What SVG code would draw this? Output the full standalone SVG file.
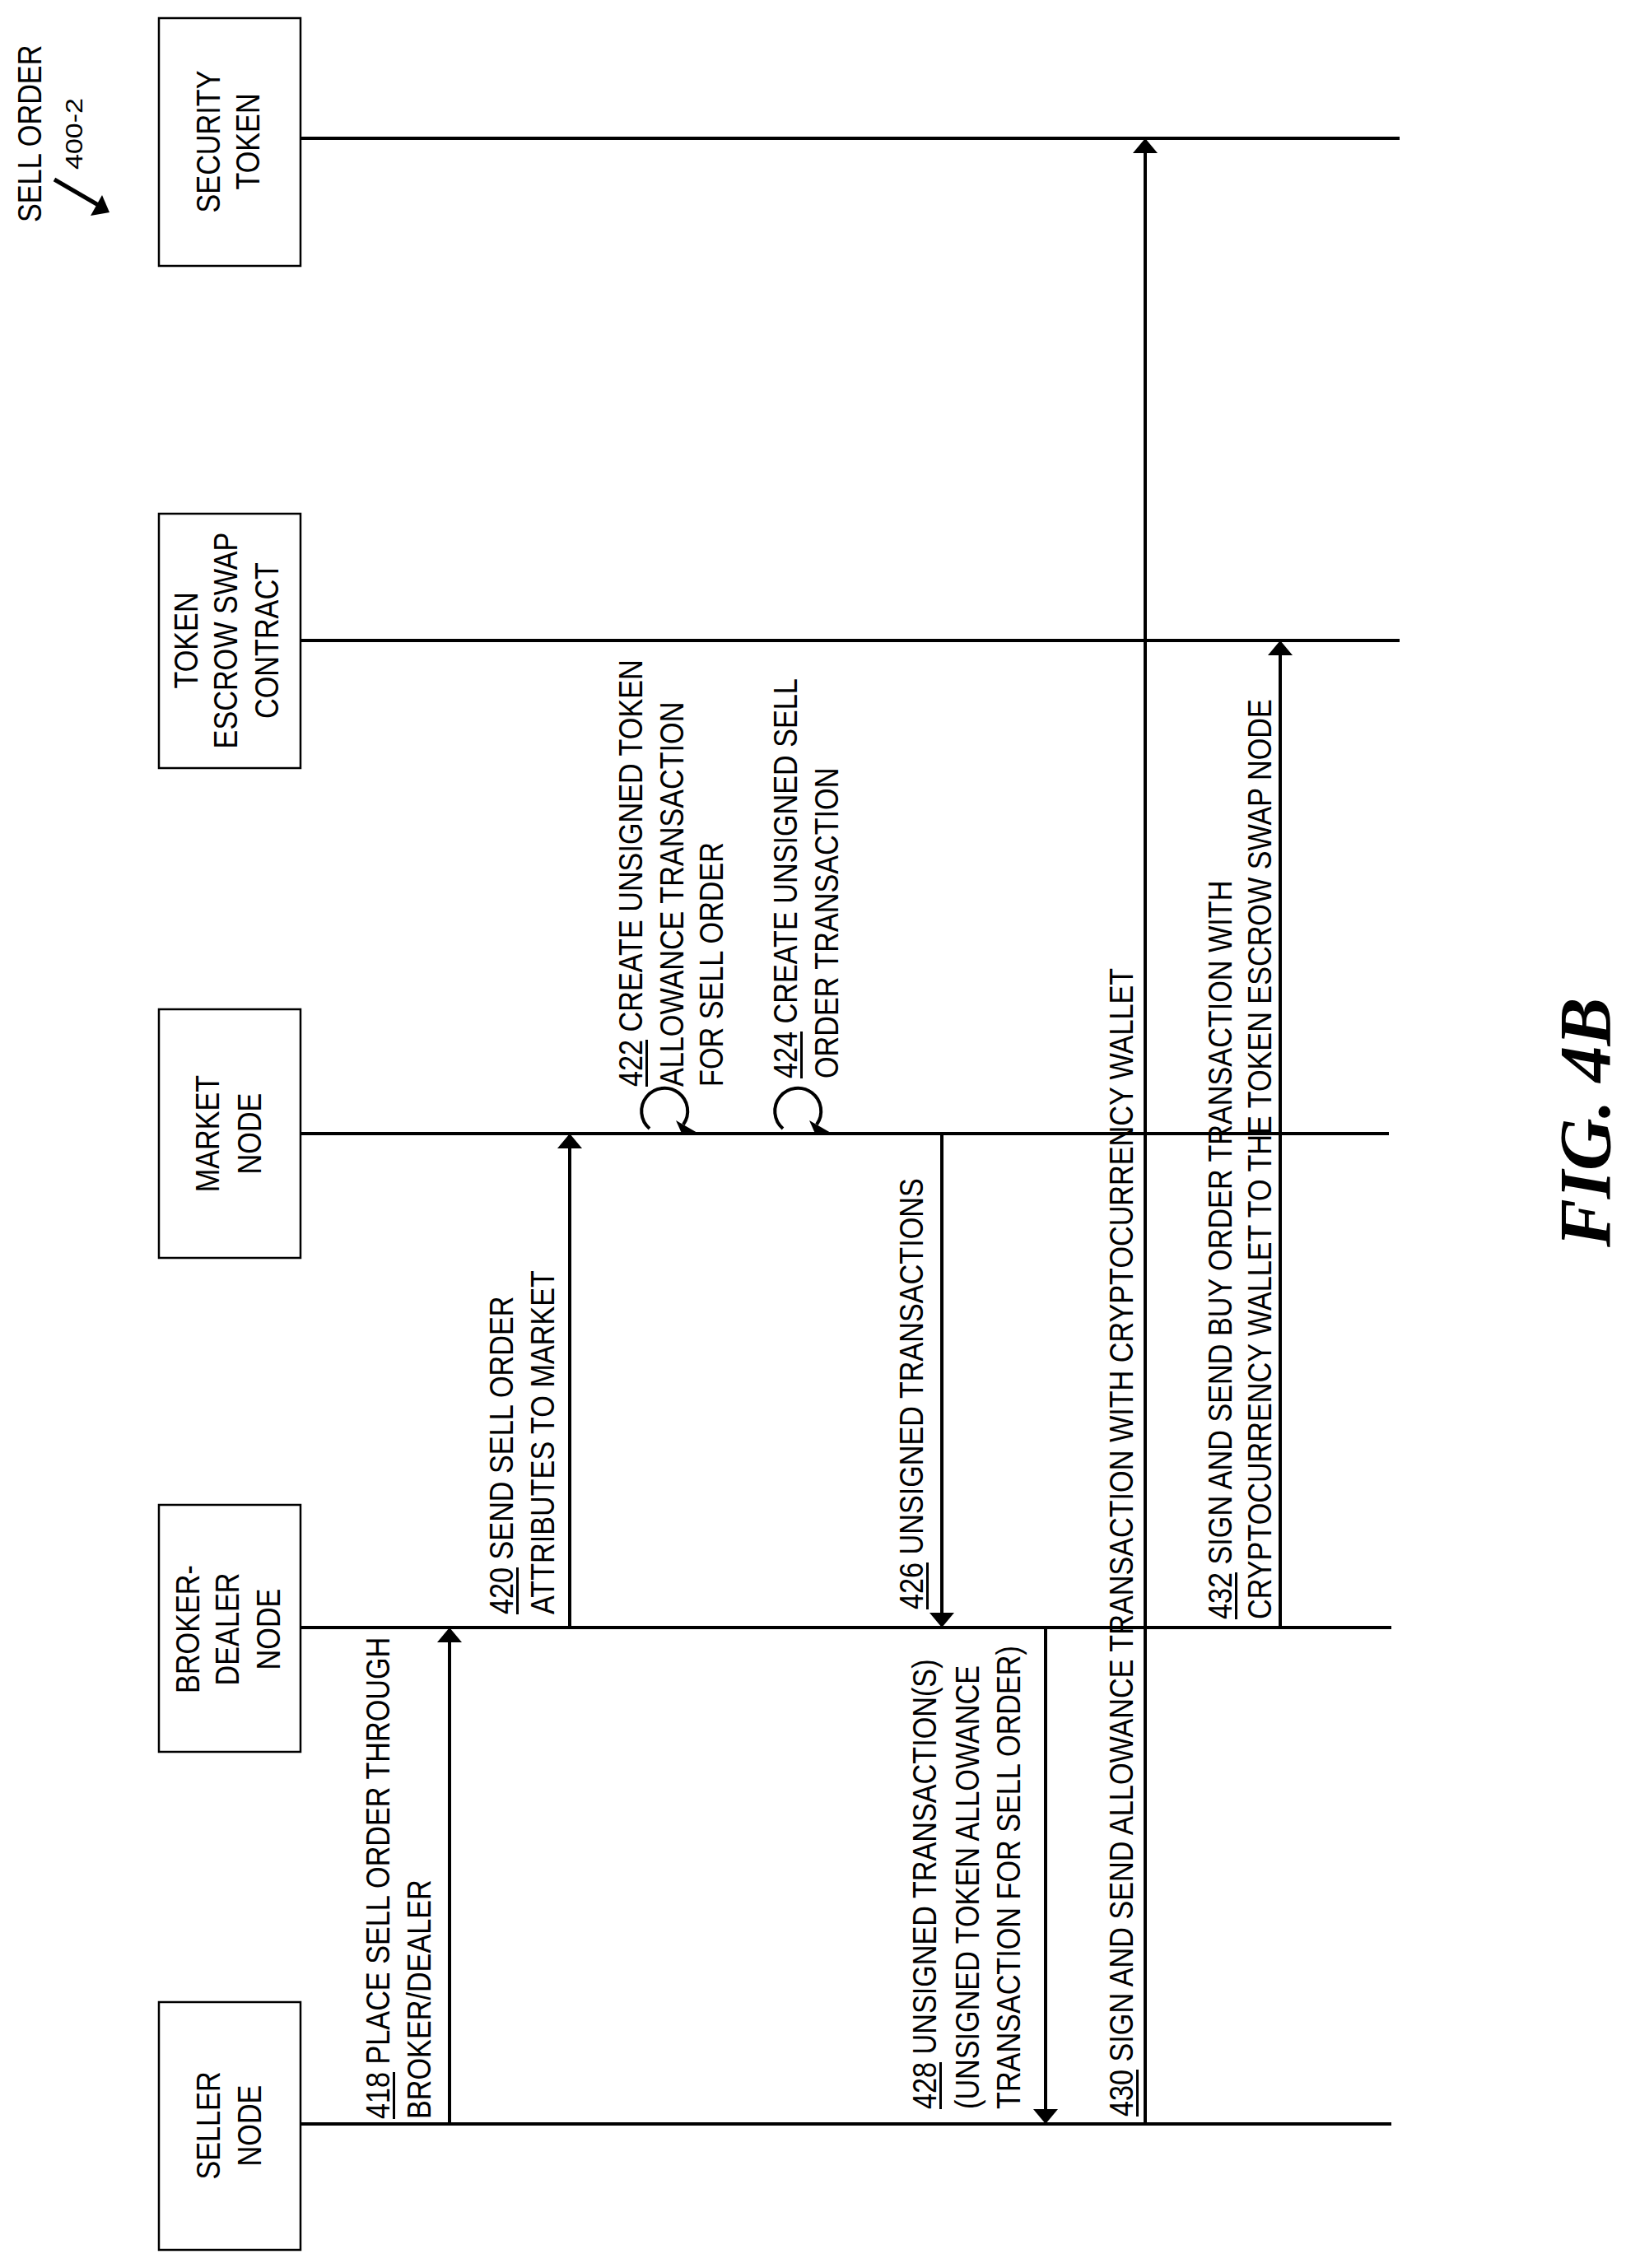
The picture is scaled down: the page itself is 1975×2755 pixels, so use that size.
<svg xmlns="http://www.w3.org/2000/svg" width="1975" height="2755" viewBox="0 0 1975 2755">
<defs>
<style>
.t{font-family:"Liberation Sans",Arial,sans-serif;font-size:40px;fill:#000}
.c{text-anchor:middle}
.box{fill:#fff;stroke:#000;stroke-width:2.5}
.life{stroke:#000;stroke-width:4;fill:none}
.msg{stroke:#000;stroke-width:4;fill:none}
.ul{stroke:#000;stroke-width:3}
.fig{font-family:"Liberation Serif","Times New Roman",serif;font-size:88px;font-weight:bold;font-style:italic;fill:#000}
</style>
<marker id="ah" markerUnits="userSpaceOnUse" markerWidth="18" markerHeight="30" refX="10" refY="15" orient="auto" viewBox="0 0 18 30"><path d="M0,0 L18,15 L0,30 Z" fill="#000"/></marker>
</defs>
<rect width="1975" height="2755" fill="#fff"/>

<g id="label-sell-order">
<text class="t" transform="translate(0,270) rotate(-90) scale(0.855,1)"><tspan x="0" y="50">SELL ORDER</tspan></text>
<text class="t" style="font-size:29px" transform="translate(0,206) rotate(-90)"><tspan x="0" y="100" textLength="87" lengthAdjust="spacingAndGlyphs">400-2</tspan></text>
<line x1="66" y1="218" x2="121" y2="250" stroke="#000" stroke-width="5"/>
<polygon points="133,258 110,262 124,237" fill="#000"/>
</g>

<g id="lifelines">
<line class="life" x1="365" y1="168" x2="1700" y2="168"/>
<line class="life" x1="365" y1="778" x2="1700" y2="778"/>
<line class="life" x1="365" y1="1377" x2="1687" y2="1377"/>
<line class="life" x1="365" y1="1977" x2="1690" y2="1977"/>
<line class="life" x1="365" y1="2580" x2="1690" y2="2580"/>
</g>

<g id="node-security-token">
<rect class="box" x="193" y="22" width="172" height="301"/>
<text class="t c" transform="translate(0,172) rotate(-90) scale(0.855,1)"><tspan x="0" y="267">SECURITY</tspan><tspan x="0" y="315">TOKEN</tspan></text>
</g>

<g id="node-token-escrow-swap-contract">
<rect class="box" x="193" y="624" width="172" height="309"/>
<text class="t c" transform="translate(0,778) rotate(-90) scale(0.855,1)"><tspan x="0" y="240">TOKEN</tspan><tspan x="0" y="288">ESCROW SWAP</tspan><tspan x="0" y="338">CONTRACT</tspan></text>
</g>

<g id="node-market">
<rect class="box" x="193" y="1226" width="172" height="302"/>
<text class="t c" transform="translate(0,1377) rotate(-90) scale(0.855,1)"><tspan x="0" y="266">MARKET</tspan><tspan x="0" y="317">NODE</tspan></text>
</g>

<g id="node-broker-dealer">
<rect class="box" x="193" y="1828" width="172" height="300"/>
<text class="t c" transform="translate(0,1979) rotate(-90) scale(0.855,1)"><tspan x="0" y="242">BROKER-</tspan><tspan x="0" y="290">DEALER</tspan><tspan x="0" y="340">NODE</tspan></text>
</g>

<g id="node-seller">
<rect class="box" x="193" y="2432" width="172" height="301"/>
<text class="t c" transform="translate(0,2582) rotate(-90) scale(0.855,1)"><tspan x="0" y="267">SELLER</tspan><tspan x="0" y="317">NODE</tspan></text>
</g>

<g id="connectors">
<line class="msg" x1="546" y1="2580" x2="546" y2="1985" marker-end="url(#ah)"/>
<line class="msg" x1="692" y1="1977" x2="692" y2="1385" marker-end="url(#ah)"/>
<path class="msg" d="M789,1371 A28,28 0 1 1 830,1366"/>
<polygon points="847,1376 821,1361 829,1379" fill="#000"/>
<path class="msg" d="M951,1371 A28,28 0 1 1 992,1366"/>
<polygon points="1009,1376 983,1361 991,1379" fill="#000"/>
<line class="msg" x1="1144" y1="1377" x2="1144" y2="1969" marker-end="url(#ah)"/>
<line class="msg" x1="1270" y1="1977" x2="1270" y2="2572" marker-end="url(#ah)"/>
<line class="msg" x1="1391" y1="2580" x2="1391" y2="176" marker-end="url(#ah)"/>
<line class="msg" x1="1555" y1="1977" x2="1555" y2="786" marker-end="url(#ah)"/>
</g>

<g id="labels">
<g id="label-418" transform="translate(0,2574) rotate(-90) scale(0.855,1)">
<text class="t"><tspan x="0" y="473">418 PLACE SELL ORDER THROUGH</tspan><tspan x="0" y="523">BROKER/DEALER</tspan></text>
<line class="ul" x1="0" y1="478.5" x2="66.7" y2="478.5"/>
</g>
<g id="label-420" transform="translate(0,1961) rotate(-90) scale(0.855,1)">
<text class="t"><tspan x="0" y="623">420 SEND SELL ORDER</tspan><tspan x="0" y="673">ATTRIBUTES TO MARKET</tspan></text>
<line class="ul" x1="0" y1="628.5" x2="66.7" y2="628.5"/>
</g>
<g id="label-422" transform="translate(0,1320) rotate(-90) scale(0.855,1)">
<text class="t"><tspan x="0" y="780">422 CREATE UNSIGNED TOKEN</tspan><tspan x="0" y="830">ALLOWANCE TRANSACTION</tspan><tspan x="0" y="878">FOR SELL ORDER</tspan></text>
<line class="ul" x1="0" y1="785.5" x2="66.7" y2="785.5"/>
</g>
<g id="label-424" transform="translate(0,1310) rotate(-90) scale(0.855,1)">
<text class="t"><tspan x="0" y="968">424 CREATE UNSIGNED SELL</tspan><tspan x="0" y="1018">ORDER TRANSACTION</tspan></text>
<line class="ul" x1="0" y1="973.5" x2="66.7" y2="973.5"/>
</g>
<g id="label-426" transform="translate(0,1955) rotate(-90) scale(0.855,1)">
<text class="t"><tspan x="0" y="1121">426 UNSIGNED TRANSACTIONS</tspan></text>
<line class="ul" x1="0" y1="1126.5" x2="66.7" y2="1126.5"/>
</g>
<g id="label-428" transform="translate(0,2562) rotate(-90) scale(0.855,1)">
<text class="t"><tspan x="0" y="1137">428 UNSIGNED TRANSACTION(S)</tspan><tspan x="0" y="1189">(UNSIGNED TOKEN ALLOWANCE</tspan><tspan x="0" y="1239">TRANSACTION FOR SELL ORDER)</tspan></text>
<line class="ul" x1="0" y1="1142.5" x2="66.7" y2="1142.5"/>
</g>
<g id="label-430" transform="translate(0,2571) rotate(-90) scale(0.855,1)">
<text class="t"><tspan x="0" y="1376">430 SIGN AND SEND ALLOWANCE TRANSACTION WITH CRYPTOCURRENCY WALLET</tspan></text>
<line class="ul" x1="0" y1="1381.5" x2="66.7" y2="1381.5"/>
</g>
<g id="label-432" transform="translate(0,1967) rotate(-90) scale(0.855,1)">
<text class="t"><tspan x="0" y="1496">432 SIGN AND SEND BUY ORDER TRANSACTION WITH</tspan><tspan x="0" y="1544">CRYPTOCURRENCY WALLET TO THE TOKEN ESCROW SWAP NODE</tspan></text>
<line class="ul" x1="0" y1="1501.5" x2="66.7" y2="1501.5"/>
</g>
</g>

<text class="fig" transform="translate(0,1515) rotate(-90)"><tspan x="0" y="1955">FIG. 4B</tspan></text>
</svg>
